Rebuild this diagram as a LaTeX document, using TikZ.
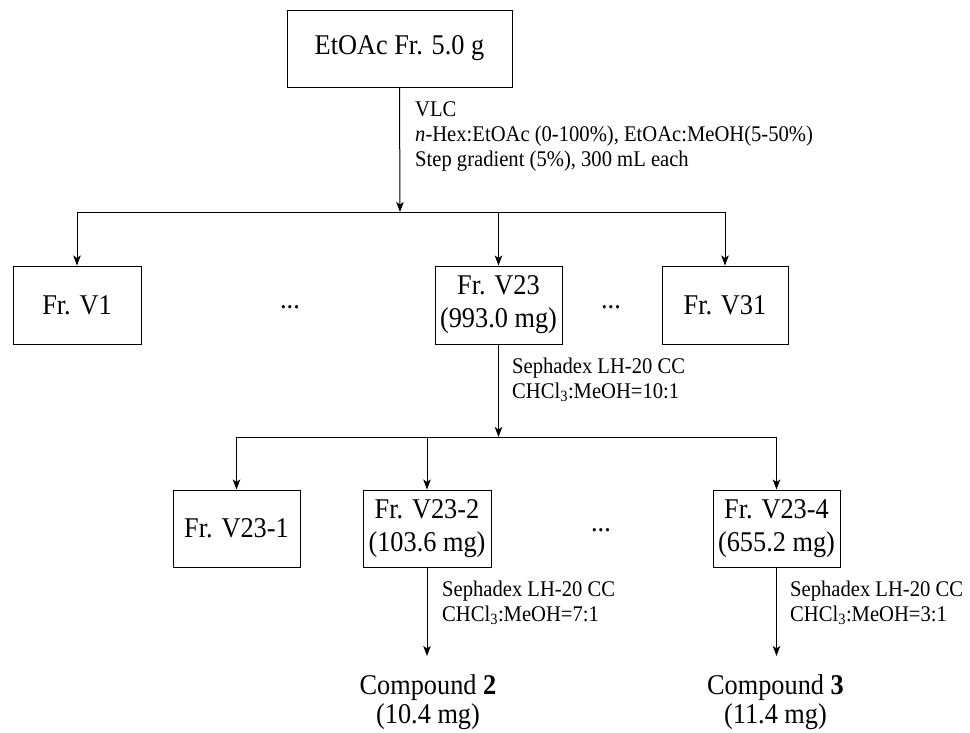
\documentclass[tikz,border=0pt]{standalone}
\usepackage{fontspec}
\setmainfont[FakeStretch=0.92]{Liberation Serif}
\usetikzlibrary{arrows.meta}
\newcommand\fsbig{\fontsize{28.6}{33}\selectfont}
\newcommand\fssmall{\fontsize{22.4}{25}\selectfont}
\begin{document}
\begin{tikzpicture}[x=1pt,y=-1pt,
  box/.style={draw, line width=1pt, inner sep=0pt, align=center, font=\fsbig},
  lbl/.style={inner sep=0pt, align=left, font=\fssmall, anchor=base west},
  txt/.style={inner sep=0pt, font=\fsbig, anchor=base},
  conn/.style={line width=1pt},
  arr/.style={line width=1pt, -{Stealth[length=10pt,width=7.5pt,inset=2.5pt]}}]
\useasboundingbox[fill=white] (0,0) rectangle (970,732);
% boxes
\node[box, minimum width=225pt, minimum height=77pt] (top) at (399.5,48.5) {EtOAc Fr. 5.0 g};
\node[box, minimum width=128pt, minimum height=78pt] (v1) at (77,305) {Fr. V1};
\node[box, minimum width=127pt, minimum height=78pt] (v23) at (498.5,305) {Fr. V23\\(993.0 mg)};
\node[box, minimum width=126pt, minimum height=78pt] (v31) at (725,305) {Fr. V31};
\node[box, minimum width=127pt, minimum height=77pt] (v231) at (236.5,528.5) {Fr. V23-1};
\node[box, minimum width=128pt, minimum height=77pt] (v232) at (427,528.5) {Fr. V23-2\\(103.6 mg)};
\node[box, minimum width=127pt, minimum height=77pt] (v234) at (776.5,528.5) {Fr. V23-4\\(655.2 mg)};
% dots
\node[txt] (d1) at (290,308.5) {...};
\node[txt] (d2) at (611,308.5) {...};
\node[txt] (d3) at (601,531) {...};
% compounds
\node[txt] (c2) at (428,694) {Compound \textbf{2}};
\node[txt] (c2m) at (428,723) {(10.4 mg)};
\node[txt] (c3) at (775.5,694) {Compound \textbf{3}};
\node[txt] (c3m) at (775.5,723) {(11.4 mg)};
% labels (base = baseline of last line)
\node[lbl] (l1) at (415,166.5) {VLC\\\textit{n}-Hex:EtOAc (0-100\%), EtOAc:MeOH(5-50\%)\\Step gradient (5\%), 300 mL each};
\node[lbl] (l2) at (512,398.5) {Sephadex LH-20 CC\\CHCl\textsubscript{3}:MeOH=10:1};
\node[lbl] (l3) at (442,621) {Sephadex LH-20 CC\\CHCl\textsubscript{3}:MeOH=7:1};
\node[lbl] (l4) at (790,621) {Sephadex LH-20 CC\\CHCl\textsubscript{3}:MeOH=3:1};
% bars
\coordinate (b1) at (400,212);
\coordinate (b2) at (498.5,437);
\draw[arr] (top.south) -- (b1);
\draw[conn] (v1.north |- b1) -- (v31.north |- b1);
\draw[arr] (v1.north |- b1) -- (v1.north);
\draw[arr] (v23.north |- b1) -- (v23.north);
\draw[arr] (v31.north |- b1) -- (v31.north);
\draw[arr] (v23.south) -- (b2);
\draw[conn] (v231.north |- b2) -- (v234.north |- b2);
\draw[arr] (v231.north |- b2) -- (v231.north);
\draw[arr] (v232.north |- b2) -- (v232.north);
\draw[arr] (v234.north |- b2) -- (v234.north);
\draw[arr, shorten >=18pt] (v232.south) -- (v232.south |- c2.north);
\draw[arr, shorten >=18pt] (v234.south) -- (v234.south |- c3.north);
\end{tikzpicture}
\end{document}
